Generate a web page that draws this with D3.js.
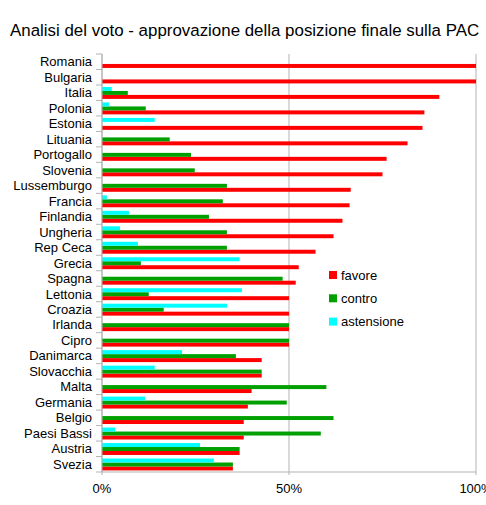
<!DOCTYPE html>
<html>
<head>
<meta charset="utf-8">
<script src="https://cdn.jsdelivr.net/npm/d3@7"></script>
<style>
  body { margin: 0; background: #fff; }
  svg { font-family: "Liberation Sans", Arial, sans-serif; }
</style>
</head>
<body>
<svg id="chart" width="486" height="505"></svg>
<script>
// Countries, top to bottom
let countries = ["Romania", "Bulgaria", "Italia", "Polonia", "Estonia", "Lituania", "Portogallo",
    "Slovenia", "Lussemburgo", "Francia", "Finlandia", "Ungheria", "Rep Ceca", "Grecia", "Spagna",
    "Lettonia", "Croazia", "Irlanda", "Cipro", "Danimarca", "Slovacchia", "Malta", "Germania",
    "Belgio", "Paesi Bassi", "Austria", "Svezia"];

// Percentages per series
let favore = [100, 100, 90.2, 86.2, 85.7, 81.7, 76.1, 75, 66.5, 66.2, 64.3, 61.9, 57.1, 52.6, 51.8,
    50, 50, 50, 50, 42.7, 42.7, 40, 39, 37.9, 37.9, 36.8, 35];
let contro = [0, 0, 6.9, 11.7, 0, 18.1, 23.8, 24.8, 33.4, 32.3, 28.6, 33.4, 33.4, 10.4, 48.3,
    12.5, 16.5, 50, 50, 35.8, 42.7, 60, 49.4, 61.9, 58.5, 36.8, 35];
let astensione = [0, 0, 2.6, 1.9, 14.1, 0, 0, 0, 0, 1.3, 7.2, 4.8, 9.6, 36.8, 0,
    37.4, 33.4, 0, 0, 21.4, 14.1, 0, 11.5, 0, 3.5, 26.2, 29.9];

let seriesNames = ["favore", "contro", "astensione"];
let seriesColors = ["#ff0000", "#00a000", "#00ffff"];
let ticks = [0, 50, 100];

let svg = d3.select("#chart");
let plotLeft = 102, plotRight = 476, plotTop = 54, plotBottom = 472;

// Title
svg.append("text")
    .attr("x", 10)
    .attr("y", 36)
    .style("font-size", "16.9px")
    .style("fill", "#000")
    .text("Analisi del voto - approvazione della posizione finale sulla PAC");

let x = d3.scaleLinear().domain([0, 100]).range([plotLeft, plotRight]);
let y = d3.scaleBand().domain(countries).range([plotTop, plotBottom]).padding(0);

// bars inside a band: astensione on top, then contro, then favore
let inner = d3.scaleBand()
    .domain(["astensione", "contro", "favore"])
    .range([y.bandwidth() * 0.13, y.bandwidth() * 0.9]);

// Grid lines
svg.append("g")
    .selectAll("line")
    .data(ticks)
    .join("line")
    .attr("x1", d => x(d))
    .attr("x2", d => x(d))
    .attr("y1", plotTop)
    .attr("y2", plotBottom)
    .attr("stroke", "#b3b3b3")
    .attr("stroke-width", 1);

// Bars
let data = countries.map((c, i) => ({
    country: c,
    favore: favore[i],
    contro: contro[i],
    astensione: astensione[i]
}));

let groups = svg.append("g")
    .selectAll("g")
    .data(data)
    .join("g")
    .attr("transform", d => "translate(0," + y(d.country) + ")");

seriesNames.forEach((s, si) => {
    groups.append("rect")
        .attr("x", x(0))
        .attr("y", inner(s))
        .attr("width", d => x(d[s]) - x(0))
        .attr("height", inner.bandwidth())
        .attr("fill", seriesColors[si]);
});

// Y axis (category)
let yAxis = svg.append("g");
yAxis.append("line")
    .attr("x1", plotLeft).attr("x2", plotLeft)
    .attr("y1", plotTop).attr("y2", plotBottom)
    .attr("stroke", "#b3b3b3");
yAxis.selectAll("line.tick")
    .data(countries.concat(["__end"]))
    .join("line")
    .attr("class", "tick")
    .attr("x1", plotLeft - 6).attr("x2", plotLeft)
    .attr("y1", (d, i) => plotTop + i * y.bandwidth())
    .attr("y2", (d, i) => plotTop + i * y.bandwidth())
    .attr("stroke", "#b3b3b3");
yAxis.selectAll("text")
    .data(countries)
    .join("text")
    .attr("x", 92)
    .attr("y", d => y(d) + y.bandwidth() / 2)
    .attr("dy", "0.35em")
    .attr("text-anchor", "end")
    .style("font-size", "13px")
    .text(d => d);

// X axis
let xAxis = svg.append("g");
xAxis.append("line")
    .attr("x1", plotLeft).attr("x2", plotRight)
    .attr("y1", plotBottom).attr("y2", plotBottom)
    .attr("stroke", "#b3b3b3");
xAxis.selectAll("line.tick")
    .data(ticks)
    .join("line")
    .attr("class", "tick")
    .attr("x1", d => x(d)).attr("x2", d => x(d))
    .attr("y1", plotBottom).attr("y2", plotBottom + 3)
    .attr("stroke", "#b3b3b3");
xAxis.selectAll("text")
    .data(ticks)
    .join("text")
    .attr("x", d => x(d))
    .attr("y", 493)
    .attr("text-anchor", "middle")
    .style("font-size", "13px")
    .text(d => d + "%");

// Legend
let legend = svg.append("g")
    .selectAll("g")
    .data(seriesNames)
    .join("g")
    .attr("transform", (d, i) => "translate(329," + (275 + i * 23.3) + ")");
legend.append("rect")
    .attr("x", 0).attr("y", -4)
    .attr("width", 8).attr("height", 8)
    .attr("fill", (d, i) => seriesColors[i]);
legend.append("text")
    .attr("x", 12)
    .attr("y", 0)
    .attr("dy", "0.35em")
    .style("font-size", "13px")
    .text(d => d);
</script>
</body>
</html>
